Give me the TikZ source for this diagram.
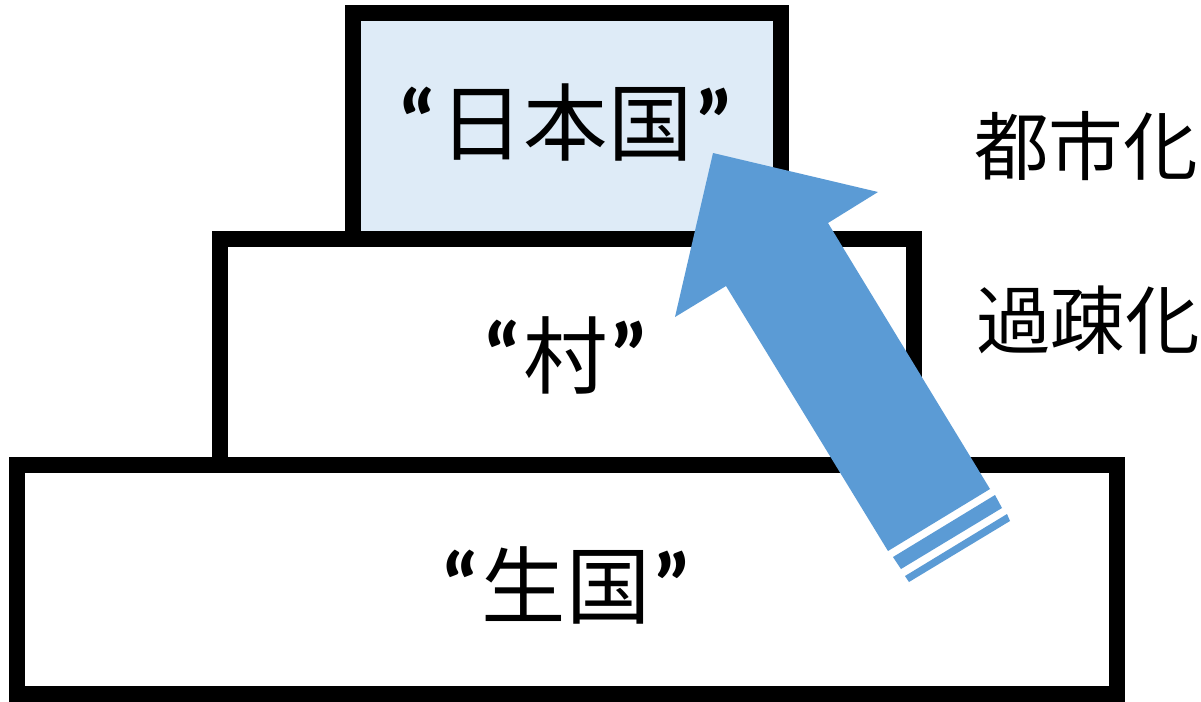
\documentclass[tikz,border=0pt]{standalone}
\usepackage{fontspec}
\newfontfamily\jp{Noto Sans CJK JP}
\newfontfamily\qf{Carlito}
\definecolor{arrowblue}{HTML}{5B9BD5}
\definecolor{boxblue}{HTML}{DEEBF7}
\tikzset{
  tier/.style={draw=black, line width=0.32cm, inner sep=0pt, outer sep=0pt, rectangle},
  bigtext/.style={inner sep=0pt, font=\jp\fontsize{48pt}{50pt}\selectfont},
  sidetext/.style={inner sep=0pt, font=\jp\fontsize{42.5pt}{44pt}\selectfont},
}
\newcommand{\qt}[1]{{\qf\bfseries\fontsize{52pt}{54pt}\selectfont “}\hspace{1pt}#1\hspace{1pt}{\qf\bfseries\fontsize{52pt}{54pt}\selectfont ”}}
\begin{document}
\begin{tikzpicture}[x=0.02cm, y=-0.02cm]
\useasboundingbox[fill=white] (0,0) rectangle (1201,701);
% boxes
\node[tier, fill=white, minimum width=22cm, minimum height=4.58cm] (bottom) at (567,579.5) {};
\node[tier, fill=white, minimum width=13.88cm, minimum height=4.51cm] (middle) at (567,352) {};
\node[tier, fill=boxblue, minimum width=8.56cm, minimum height=4.52cm] (top) at (567,126) {};
% texts
\node[bigtext] (ttop) at (566,122) {\qt{日本国}};
\node[bigtext] (tmid) at (566,355) {\qt{村}};
\node[bigtext] (tbot) at (566,585) {\qt{生国}};
\node[sidetext] (urban) at (1086,146) {都市化};
\node[sidetext] (depop) at (1088,320) {過疎化};
% striped arrow
\fill[arrowblue] (713,153) -- (878,192) -- (828,223) -- (990,489) -- (888,551) -- (726,286) -- (675,317) -- cycle;
\fill[arrowblue] (893,557) -- (995,495) -- (1002,508) -- (901,569) -- cycle;
\fill[arrowblue] (905,576) -- (1007,514) -- (1010,521) -- (909,582) -- cycle;
\end{tikzpicture}
\end{document}
